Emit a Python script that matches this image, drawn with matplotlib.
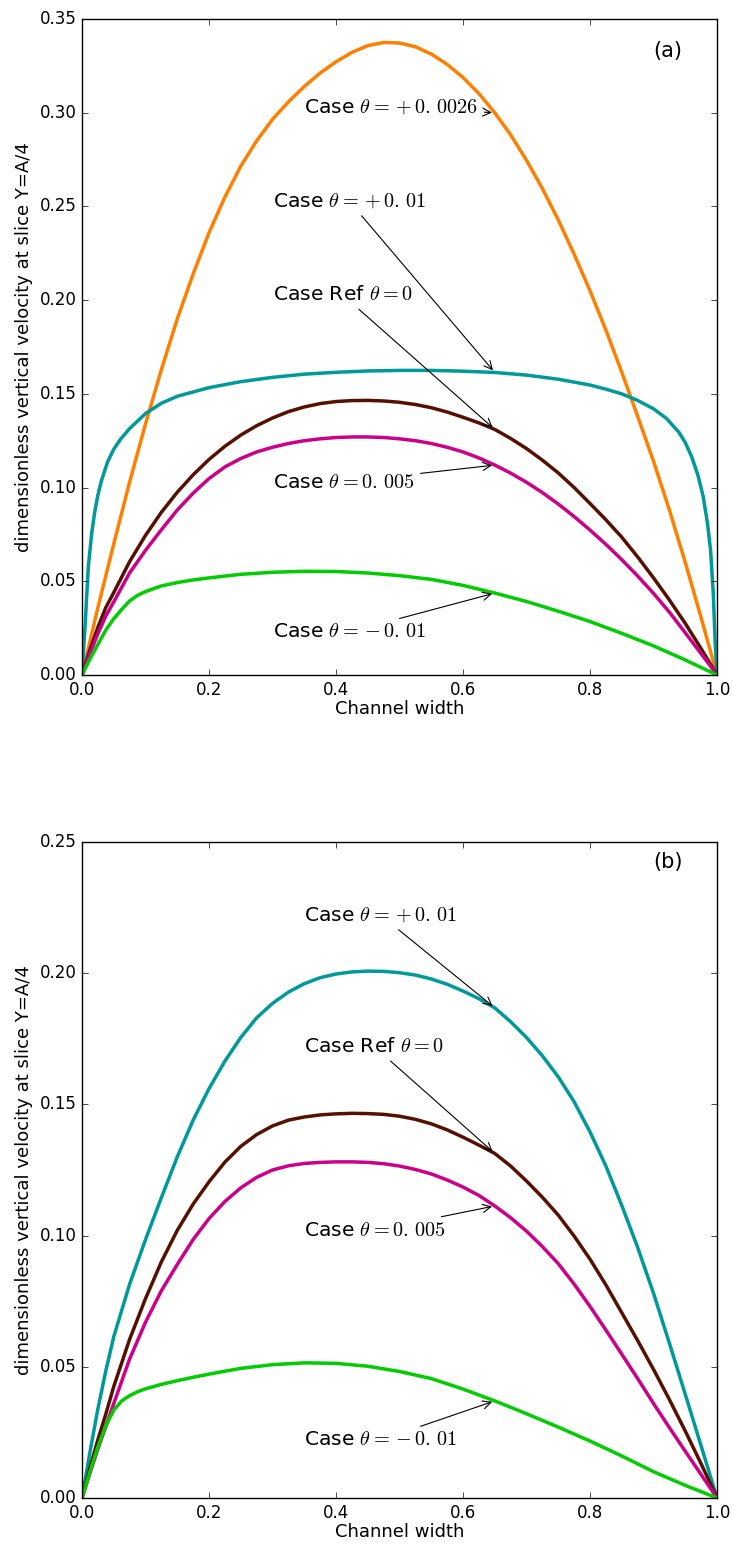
import matplotlib
matplotlib.use("Agg")
import matplotlib.pyplot as plt
from matplotlib.ticker import FormatStrFormatter

# ---- data ----
# x positions (channel width) at which values were read
x_step = [0, 0.025, 0.05, 0.075, 0.1, 0.125, 0.15, 0.175, 0.2, 0.225, 0.25, 0.275, 0.3,
          0.325, 0.35, 0.375, 0.4, 0.425, 0.45, 0.475, 0.5, 0.525, 0.55, 0.575, 0.6, 0.625,
          0.65, 0.675, 0.7, 0.725, 0.75, 0.775, 0.8, 0.825, 0.85, 0.875, 0.9, 0.925, 0.95,
          0.975, 1.0]
x_fine = [0, 0.0125, 0.025, 0.0375, 0.05, 0.075, 0.1, 0.125, 0.15, 0.175, 0.2, 0.225, 0.25,
          0.275, 0.3, 0.325, 0.35, 0.375, 0.4, 0.425, 0.45, 0.475, 0.5, 0.525, 0.55, 0.575,
          0.6, 0.625, 0.65, 0.675, 0.7, 0.725, 0.75, 0.775, 0.8, 0.825, 0.85, 0.875, 0.9,
          0.925, 0.95, 0.975, 1.0]
x_green = [0, 0.0125, 0.025, 0.0375, 0.05, 0.0625, 0.075, 0.0875, 0.1, 0.125, 0.15, 0.175,
           0.2, 0.25, 0.3, 0.35, 0.4, 0.45, 0.5, 0.55, 0.6, 0.65, 0.7, 0.75, 0.8, 0.85, 0.9,
           0.95, 1.0]
x_teal_a = [0, 0.0025, 0.005, 0.0075, 0.01, 0.015, 0.02, 0.025, 0.03, 0.04, 0.05, 0.06,
            0.075, 0.1, 0.125, 0.15, 0.175, 0.2, 0.25, 0.3, 0.35, 0.4, 0.45, 0.5, 0.55, 0.6,
            0.65, 0.7, 0.75, 0.8, 0.825, 0.85, 0.875, 0.9, 0.92, 0.94, 0.95, 0.96, 0.97,
            0.978, 0.985, 0.99, 0.994, 0.997, 1.0]

# panel (a)
y_orange_a = [0, 0.036, 0.070, 0.103, 0.134, 0.163, 0.190, 0.214, 0.236, 0.255, 0.2715,
              0.2850, 0.2965, 0.3058, 0.3140, 0.3212, 0.3272, 0.3322, 0.3358, 0.3375, 0.3372,
              0.3352, 0.3313, 0.3258, 0.3188, 0.3102, 0.3000, 0.2882, 0.2746, 0.2595, 0.2428,
              0.2245, 0.2050, 0.1840, 0.1615, 0.1380, 0.1140, 0.0880, 0.0600, 0.0305, 0]
y_teal_a = [0, 0.014, 0.027, 0.043, 0.058, 0.075, 0.087, 0.096, 0.103, 0.1135, 0.1205,
            0.1255, 0.1315, 0.1395, 0.145, 0.1487, 0.151, 0.1533, 0.1565, 0.1588, 0.1605,
            0.1615, 0.1622, 0.1625, 0.1625, 0.1621, 0.1614, 0.160, 0.1578, 0.1547, 0.1525,
            0.150, 0.1465, 0.142, 0.137, 0.1295, 0.124, 0.1165, 0.1065, 0.0955, 0.081, 0.066,
            0.044, 0.018, 0]
y_brown_a = [0, 0.0135, 0.0255, 0.036, 0.044, 0.0605, 0.0745, 0.0868, 0.0975, 0.1068, 0.115,
             0.122, 0.128, 0.133, 0.1371, 0.1405, 0.143, 0.1448, 0.1459, 0.1464, 0.1465,
             0.1462, 0.1455, 0.1443, 0.1426, 0.1403, 0.1375, 0.1345, 0.131, 0.1262, 0.1208,
             0.1146, 0.1078, 0.1000, 0.0915, 0.0828, 0.0735, 0.0630, 0.0518, 0.0400, 0.0275,
             0.0140, 0]
y_magenta_a = [0, 0.0115, 0.022, 0.0315, 0.039, 0.0545, 0.0665, 0.0775, 0.088, 0.097,
               0.1048, 0.111, 0.1155, 0.119, 0.1215, 0.1235, 0.125, 0.126, 0.1267, 0.127,
               0.127, 0.1267, 0.126, 0.125, 0.1235, 0.1215, 0.119, 0.1158, 0.112, 0.1077,
               0.1028, 0.0973, 0.0912, 0.0845, 0.0773, 0.0697, 0.0615, 0.0528, 0.0435,
               0.0335, 0.0225, 0.0113, 0]
y_green_a = [0, 0.0085, 0.0163, 0.024, 0.030, 0.035, 0.0395, 0.0425, 0.0445, 0.0475, 0.0493,
             0.0507, 0.0518, 0.0537, 0.0548, 0.0553, 0.0552, 0.0544, 0.053, 0.051, 0.0478,
             0.0437, 0.0392, 0.034, 0.0285, 0.0222, 0.0155, 0.008, 0]

# panel (b)
y_teal_b = [0, 0.0175, 0.034, 0.0485, 0.0615, 0.0815, 0.0985, 0.1145, 0.130, 0.144, 0.156,
            0.1665, 0.1755, 0.183, 0.1885, 0.1928, 0.196, 0.1983, 0.1997, 0.2005, 0.2008,
            0.2007, 0.2002, 0.1993, 0.1978, 0.1958, 0.1932, 0.1903, 0.1868, 0.1815, 0.1755,
            0.1685, 0.1605, 0.151, 0.1395, 0.1265, 0.1115, 0.0955, 0.078, 0.059, 0.0395,
            0.0198, 0]
y_brown_b = [0, 0.0115, 0.0222, 0.032, 0.0425, 0.0605, 0.076, 0.090, 0.102, 0.112, 0.1205,
             0.128, 0.134, 0.1385, 0.1418, 0.144, 0.1452, 0.146, 0.1464, 0.1466, 0.1465,
             0.1462, 0.1455, 0.1443, 0.1426, 0.1403, 0.1375, 0.1345, 0.1313, 0.1265, 0.1208,
             0.1146, 0.1078, 0.0998, 0.091, 0.0812, 0.0706, 0.0600, 0.0490, 0.0375, 0.0255,
             0.0130, 0]
y_magenta_b = [0, 0.0095, 0.0187, 0.0273, 0.036, 0.053, 0.067, 0.079, 0.089, 0.0985,
               0.1065, 0.113, 0.1182, 0.1222, 0.125, 0.1266, 0.1275, 0.1279, 0.1281, 0.1281,
               0.1279, 0.1274, 0.1265, 0.1252, 0.1235, 0.1212, 0.1185, 0.1153, 0.1113,
               0.1068, 0.1017, 0.0958, 0.0893, 0.0815, 0.073, 0.064, 0.0548, 0.0455, 0.036,
               0.0268, 0.0178, 0.0089, 0]
y_green_b = [0, 0.010, 0.0195, 0.0275, 0.0335, 0.037, 0.039, 0.0405, 0.0416, 0.0433, 0.0447,
             0.046, 0.0472, 0.0494, 0.0508, 0.0515, 0.0513, 0.0502, 0.0482, 0.0455, 0.0415,
             0.037, 0.0321, 0.027, 0.0217, 0.016, 0.010, 0.0048, 0]

# annotations: text, text position, arrow target
labels_a = [r"Case $\theta=\,{+}\,0.\,0026$", r"Case $\theta=\,{+}\,0.\,01$",
            r"Case Ref $\theta=0$", r"Case $\theta=0.\,005$",
            r"Case $\theta=\,{-}\,0.\,01$"]
text_xy_a = [(0.35, 0.30), (0.30, 0.25), (0.30, 0.20), (0.30, 0.10), (0.30, 0.02)]
arrow_xy_a = [(0.65, 0.300), (0.65, 0.1614), (0.65, 0.131), (0.65, 0.112), (0.65, 0.0437)]

labels_b = [r"Case $\theta=\,{+}\,0.\,01$", r"Case Ref $\theta=0$",
            r"Case $\theta=0.\,005$", r"Case $\theta=\,{-}\,0.\,01$"]
text_xy_b = [(0.35, 0.22), (0.35, 0.17), (0.35, 0.10), (0.35, 0.02)]
arrow_xy_b = [(0.65, 0.1868), (0.65, 0.1313), (0.65, 0.1113), (0.65, 0.037)]

c_orange = "#ff7f00"
c_teal = "#009999"
c_brown = "#561000"
c_magenta = "#cc0088"
c_green = "#00cc00"

plt.style.use("classic")
plt.rcParams["mathtext.fontset"] = "cm"
plt.rcParams["font.family"] = "DejaVu Sans"

fig = plt.figure(figsize=(7.33, 15.47), dpi=100, facecolor="white")
ax1 = fig.add_axes([0.1119, 0.5637, 0.8663, 0.4240])
ax2 = fig.add_axes([0.1119, 0.0317, 0.8663, 0.4240])

lw = 2.5
fs_note = 14.6

ax1.plot(x_step, y_orange_a, color=c_orange, lw=lw)
ax1.plot(x_teal_a, y_teal_a, color=c_teal, lw=lw)
ax1.plot(x_fine, y_brown_a, color=c_brown, lw=lw)
ax1.plot(x_fine, y_magenta_a, color=c_magenta, lw=lw)
ax1.plot(x_green, y_green_a, color=c_green, lw=lw)

ax2.plot(x_fine, y_teal_b, color=c_teal, lw=lw)
ax2.plot(x_fine, y_brown_b, color=c_brown, lw=lw)
ax2.plot(x_fine, y_magenta_b, color=c_magenta, lw=lw)
ax2.plot(x_green, y_green_b, color=c_green, lw=lw)

for lab, txy, axy in zip(labels_a, text_xy_a, arrow_xy_a):
    ax1.annotate(lab, xy=axy, xytext=txy, fontsize=fs_note,
                 arrowprops=dict(arrowstyle="->", color="black", lw=0.8))

for lab, txy, axy in zip(labels_b, text_xy_b, arrow_xy_b):
    ax2.annotate(lab, xy=axy, xytext=txy, fontsize=fs_note,
                 arrowprops=dict(arrowstyle="->", color="black", lw=0.8))

ax1.text(0.9, 0.33, "(a)", fontsize=15)
ax2.text(0.9, 0.24, "(b)", fontsize=15)

ax1.set_xlim(0, 1)
ax1.set_ylim(0, 0.35)
ax2.set_xlim(0, 1)
ax2.set_ylim(0, 0.25)

for ax in (ax1, ax2):
    ax.set_xticks([0.0, 0.2, 0.4, 0.6, 0.8, 1.0])
    ax.set_xlabel("Channel width", fontsize=13, labelpad=1)
    ax.set_ylabel("dimensionless vertical velocity at slice Y=A/4", fontsize=13)
    ax.tick_params(direction="in", top=True, right=True, labelsize=12, length=4)
    ax.xaxis.set_major_formatter(FormatStrFormatter("%.1f"))
    ax.yaxis.set_major_formatter(FormatStrFormatter("%.2f"))

ax1.set_yticks([0.0, 0.05, 0.1, 0.15, 0.2, 0.25, 0.3, 0.35])
ax2.set_yticks([0.0, 0.05, 0.1, 0.15, 0.2, 0.25])

plt.savefig("out.png", dpi=100, facecolor="white")
